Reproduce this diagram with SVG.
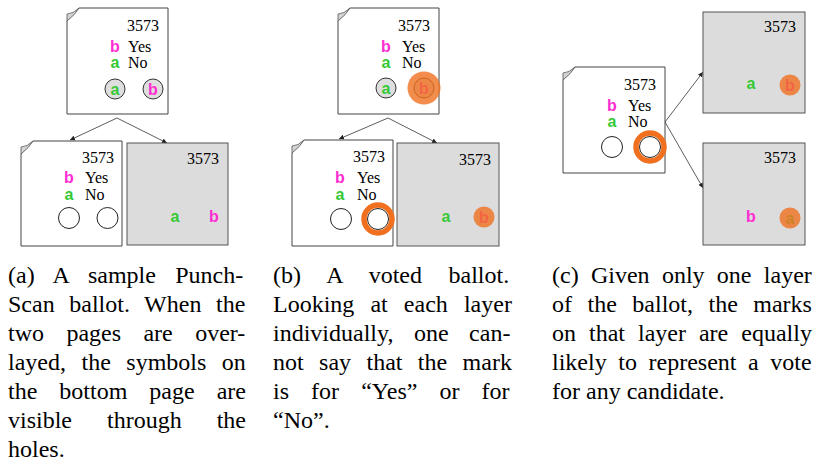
<svg xmlns="http://www.w3.org/2000/svg" width="817" height="466" viewBox="0 0 817 466">
<defs>
<style>
.pg{fill:#fff;stroke:#444;stroke-width:1}
.gp{fill:#dcdcdc;stroke:#555;stroke-width:1}
.fold{fill:#d4d4d4;stroke:#555;stroke-width:0.8}
.t{font-family:'Liberation Serif',serif;font-size:16px;fill:#000}
.num{text-anchor:end}
.sym{font-family:'Liberation Sans',Arial,sans-serif;font-weight:bold;font-size:16px;text-anchor:middle}
.m{fill:#ff2ed2}
.g{fill:#35c935}
.hole{fill:#dedede;stroke:#333;stroke-width:1}
.empty{fill:#fff;stroke:#222;stroke-width:1}
.ring{fill:none;stroke:#f07020;stroke-width:5.5}
.mark{fill:#f07020;fill-opacity:0.8}
.con{stroke:#333;stroke-width:0.8;fill:none;marker-end:url(#ah)}
.cap{font-family:'Liberation Serif',serif;font-size:24px;fill:#000}
</style>
<marker id="ah" viewBox="0 0 6 6" refX="6" refY="3" markerWidth="5" markerHeight="5" markerUnits="userSpaceOnUse" orient="auto">
<path d="M0,0 L6,3 L0,6 Z" fill="#222"/>
</marker>
</defs>

<g id="connectors">
<line class="con" x1="117" y1="118" x2="70" y2="140"/>
<line class="con" x1="117" y1="118" x2="167" y2="143"/>
<line class="con" x1="388" y1="118" x2="339" y2="139"/>
<line class="con" x1="388" y1="118" x2="437" y2="143"/>
<line class="con" x1="665" y1="122" x2="703" y2="72"/>
<line class="con" x1="665" y1="122" x2="703" y2="188"/>
</g>

<!-- Panel (a) -->
<g id="a-top">
<path class="pg" d="M67,21 L79,8 L168,8 L168,114 L67,114 Z"/>
<path class="fold" d="M67,21 L67,14 Q73,14 79,8 Q75,15 67,21 Z"/>
<text class="t num" x="159" y="31">3573</text>
<text class="sym m" x="115" y="52">b</text><text class="t" x="128" y="52">Yes</text>
<text class="sym g" x="115" y="68">a</text><text class="t" x="128" y="68">No</text>
<circle class="hole" cx="115" cy="89" r="10"/><text class="sym g" x="115" y="95">a</text>
<circle class="hole" cx="153" cy="89" r="10"/><text class="sym m" x="153" y="95">b</text>
</g>
<g id="a-left">
<path class="pg" d="M21,154 L33,141 L122,141 L122,246 L21,246 Z"/>
<path class="fold" d="M21,154 L21,147 Q27,147 33,141 Q29,148 21,154 Z"/>
<text class="t num" x="114" y="163">3573</text>
<text class="sym m" x="69" y="183">b</text><text class="t" x="85" y="183">Yes</text>
<text class="sym g" x="69" y="200">a</text><text class="t" x="85" y="200">No</text>
<circle class="empty" cx="69" cy="218" r="10.5"/>
<circle class="empty" cx="107.5" cy="218" r="10.5"/>
</g>
<g id="a-right">
<rect class="gp" x="127" y="143" width="101" height="102"/>
<text class="t num" x="219" y="164">3573</text>
<text class="sym g" x="175" y="222">a</text>
<text class="sym m" x="214" y="222">b</text>
</g>

<!-- Panel (b) -->
<g id="b-top">
<path class="pg" d="M338,21 L350,8 L439,8 L439,114 L338,114 Z"/>
<path class="fold" d="M338,21 L338,14 Q344,14 350,8 Q346,15 338,21 Z"/>
<text class="t num" x="430" y="31">3573</text>
<text class="sym m" x="386" y="52">b</text><text class="t" x="402" y="52">Yes</text>
<text class="sym g" x="386" y="68">a</text><text class="t" x="402" y="68">No</text>
<circle class="hole" cx="386" cy="88" r="10"/><text class="sym g" x="386" y="94">a</text>
<circle class="hole" cx="424" cy="88" r="10"/><text class="sym m" x="424" y="94">b</text>
<circle class="mark" cx="424" cy="88" r="16.5"/>
</g>
<g id="b-left">
<path class="pg" d="M292,153 L304,140 L393,140 L393,246 L292,246 Z"/>
<path class="fold" d="M292,153 L292,146 Q298,146 304,140 Q300,147 292,153 Z"/>
<text class="t num" x="385" y="162">3573</text>
<text class="sym m" x="340" y="183">b</text><text class="t" x="357" y="183">Yes</text>
<text class="sym g" x="340" y="200">a</text><text class="t" x="357" y="200">No</text>
<circle class="empty" cx="341" cy="219" r="10.5"/>
<circle class="empty" cx="378" cy="219" r="10.5"/>
<circle class="ring" cx="378" cy="219" r="14"/>
</g>
<g id="b-right">
<rect class="gp" x="397" y="143" width="102" height="103"/>
<text class="t num" x="491" y="165">3573</text>
<text class="sym g" x="446" y="222">a</text>
<text class="sym m" x="484" y="223">b</text>
<circle class="mark" cx="484" cy="217" r="10.5"/>
</g>

<!-- Panel (c) -->
<g id="c-left">
<path class="pg" d="M563,80 L575,67 L665,67 L665,173 L563,173 Z"/>
<path class="fold" d="M563,80 L563,73 Q569,73 575,67 Q571,74 563,80 Z"/>
<text class="t num" x="656" y="90">3573</text>
<text class="sym m" x="612" y="111">b</text><text class="t" x="628" y="111">Yes</text>
<text class="sym g" x="612" y="127">a</text><text class="t" x="628" y="127">No</text>
<circle class="empty" cx="612" cy="147" r="10.5"/>
<circle class="empty" cx="650" cy="147" r="10.5"/>
<circle class="ring" cx="650" cy="147" r="14"/>
</g>
<g id="c-top">
<rect class="gp" x="703" y="12" width="102" height="101"/>
<text class="t num" x="796" y="32">3573</text>
<text class="sym g" x="751" y="89">a</text>
<text class="sym m" x="790" y="91">b</text>
<circle class="mark" cx="790" cy="85" r="10.5"/>
</g>
<g id="c-bottom">
<rect class="gp" x="703" y="143" width="102" height="102"/>
<text class="t num" x="796" y="163">3573</text>
<text class="sym m" x="751" y="222">b</text>
<text class="sym g" x="790" y="224">a</text>
<circle class="mark" cx="790" cy="218" r="10.5"/>
</g>

<!-- Captions -->
<g id="caption-a">
<text class="cap" x="8" y="283" word-spacing="13.3">(a) A sample Punch-</text>
<text class="cap" x="8" y="312" word-spacing="8.6">Scan ballot. When the</text>
<text class="cap" x="8" y="341" word-spacing="16.4">two pages are over-</text>
<text class="cap" x="8" y="370" word-spacing="9.5">layed, the symbols on</text>
<text class="cap" x="8" y="399" word-spacing="16">the bottom page are</text>
<text class="cap" x="8" y="428" word-spacing="29">visible through the</text>
<text class="cap" x="8" y="457">holes.</text>
</g>
<g id="caption-b">
<text class="cap" x="273" y="283" word-spacing="20.5">(b) A voted ballot.</text>
<text class="cap" x="273" y="312" word-spacing="10.1">Looking at each layer</text>
<text class="cap" x="273" y="341" word-spacing="14.5">individually, one can-</text>
<text class="cap" x="273" y="370" word-spacing="9.4">not say that the mark</text>
<text class="cap" x="273" y="399" word-spacing="16.1">is for “Yes” or for</text>
<text class="cap" x="273" y="428">“No”.</text>
</g>
<g id="caption-c">
<text class="cap" x="552" y="283" word-spacing="6.3">(c) Given only one layer</text>
<text class="cap" x="552" y="312" word-spacing="9.5">of the ballot, the marks</text>
<text class="cap" x="552" y="341" word-spacing="7">on that layer are equally</text>
<text class="cap" x="552" y="370" word-spacing="5.6">likely to represent a vote</text>
<text class="cap" x="552" y="399">for any candidate.</text>
</g>
</svg>
